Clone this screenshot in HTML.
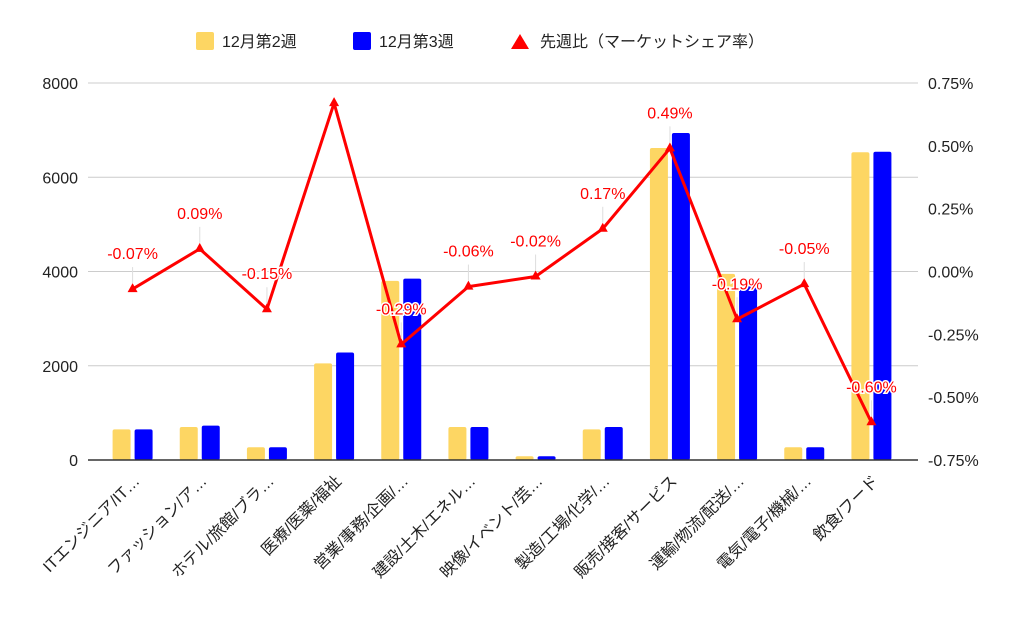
<!DOCTYPE html>
<html><head><meta charset="utf-8">
<style>
body{margin:0;background:#fff;}
svg{display:block;font-family:"Liberation Sans","Noto Sans CJK JP",sans-serif;}
</style></head>
<body>
<svg id="chart" width="1024" height="633" viewBox="0 0 1024 633">
  <g id="legend">
    <g>
      <rect x="196" y="32" width="18" height="18" rx="2" fill="#fdd663"/>
      <text x="222" y="47" font-size="16" fill="#222">12月第2週</text>
    </g>
    <g>
      <rect x="353" y="32" width="18" height="18" rx="2" fill="#0000ff"/>
      <text x="379" y="47" font-size="16" fill="#222">12月第3週</text>
    </g>
    <g>
      <polygon points="520,34 529,49 511,49" fill="#ff0000"/>
      <text x="540" y="47" font-size="16" fill="#222">先週比（マーケットシェア率）</text>
    </g>
  </g>
  <g id="grid"></g>
  <g id="bars"></g>
  <g id="line"></g>
  <g id="axes"></g>
</svg>
<script>
const categories=["ITエンジニア/IT…","ファッション/ア…","ホテル/旅館/ブラ…","医療/医薬/福祉","営業/事務/企画/…","建設/土木/エネル…","映像/イベント/芸…","製造/工場/化学/…","販売/接客/サービス","運輸/物流/配送/…","電気/電子/機械/…","飲食/フード"];
const week2=[650,700,270,2050,3800,700,80,650,6620,3950,270,6530];
const week3=[650,730,270,2280,3850,700,80,700,6940,3700,270,6540];
const share=[-0.07,0.09,-0.15,0.67,-0.29,-0.06,-0.02,0.17,0.49,-0.19,-0.05,-0.60];
const shareLabels=["-0.07%","0.09%","-0.15%","","-0.29%","-0.06%","-0.02%","0.17%","0.49%","-0.19%","-0.05%","-0.60%"];
const leftTicks=[0,2000,4000,6000,8000];
const rightTicks=[-0.75,-0.5,-0.25,0,0.25,0.5,0.75];
const rightTickLabels=["-0.75%","-0.50%","-0.25%","0.00%","0.25%","0.50%","0.75%"];

const NS="http://www.w3.org/2000/svg";
const plotTop=83,plotBot=460,axL=88,axR=918,bandL=99,bandR=905;
const yL=v=>plotBot-(v/8000)*(plotBot-plotTop);
const yR=v=>plotBot-((v+0.75)/1.5)*(plotBot-plotTop);
const bw=(bandR-bandL)/categories.length;
const xC=i=>bandL+bw*(i+0.5);
function mk(tag,attrs,parent,text){const e=document.createElementNS(NS,tag);for(const k in attrs)e.setAttribute(k,attrs[k]);if(text!==undefined)e.textContent=text;document.getElementById(parent).appendChild(e);return e;}

leftTicks.forEach((t,i)=>{
  if(t!==0){const g=mk('line',{x1:axL,x2:axR,y1:yL(t),y2:yL(t),stroke:'#ccc','stroke-width':1},'grid');
  
  }
  const tx=mk('text',{x:78,y:yL(t)+6,'font-size':16,fill:'#222','text-anchor':'end'},'axes',String(t));
  
  
});
rightTicks.forEach((t,i)=>{
  const tx=mk('text',{x:928,y:yR(t)+6,'font-size':16,fill:'#222'},'axes',rightTickLabels[i]);
  
  
});
categories.forEach((c,i)=>{
  const cx=xC(i);
  const b1=mk('rect',{x:cx-20,y:yL(week2[i]),width:18,height:plotBot-yL(week2[i]),rx:2,fill:'#fdd663'},'bars');
  
  
  const b2=mk('rect',{x:cx+2,y:yL(week3[i]),width:18,height:plotBot-yL(week3[i]),rx:2,fill:'#0000ff'},'bars');
  
  
  const lb=mk('text',{x:0,y:0,'font-size':16,fill:'#222','text-anchor':'end',transform:`translate(${cx+8},${plotBot+22}) rotate(-45)`},'axes',c);
  
  
});
const ax=mk('line',{x1:axL,x2:axR,y1:plotBot,y2:plotBot,stroke:'#333','stroke-width':1.5},'axes');



const pts=share.map((v,i)=>xC(i)+','+yR(v)).join(' ');
const pl=mk('polyline',{points:pts,fill:'none',stroke:'#ff0000','stroke-width':3,'stroke-linejoin':'round'},'line');


share.forEach((v,i)=>{
  const x=xC(i),y=yR(v);
  const m=mk('polygon',{points:`${x},${y-6} ${x+5},${y+3} ${x-5},${y+3}`,fill:'#ff0000'},'line');
  
  
  if(shareLabels[i]){
    const ld=mk('line',{x1:x,x2:x,y1:y-6,y2:y-22,stroke:'#ddd','stroke-width':1},'line');
    
    
    const t=mk('text',{x:x,y:y-30,'font-size':16,fill:'#ff0000','text-anchor':'middle',stroke:'#fff','stroke-width':3,'paint-order':'stroke'},'line',shareLabels[i]);
    
    
  }
});
</script>
</body></html>
